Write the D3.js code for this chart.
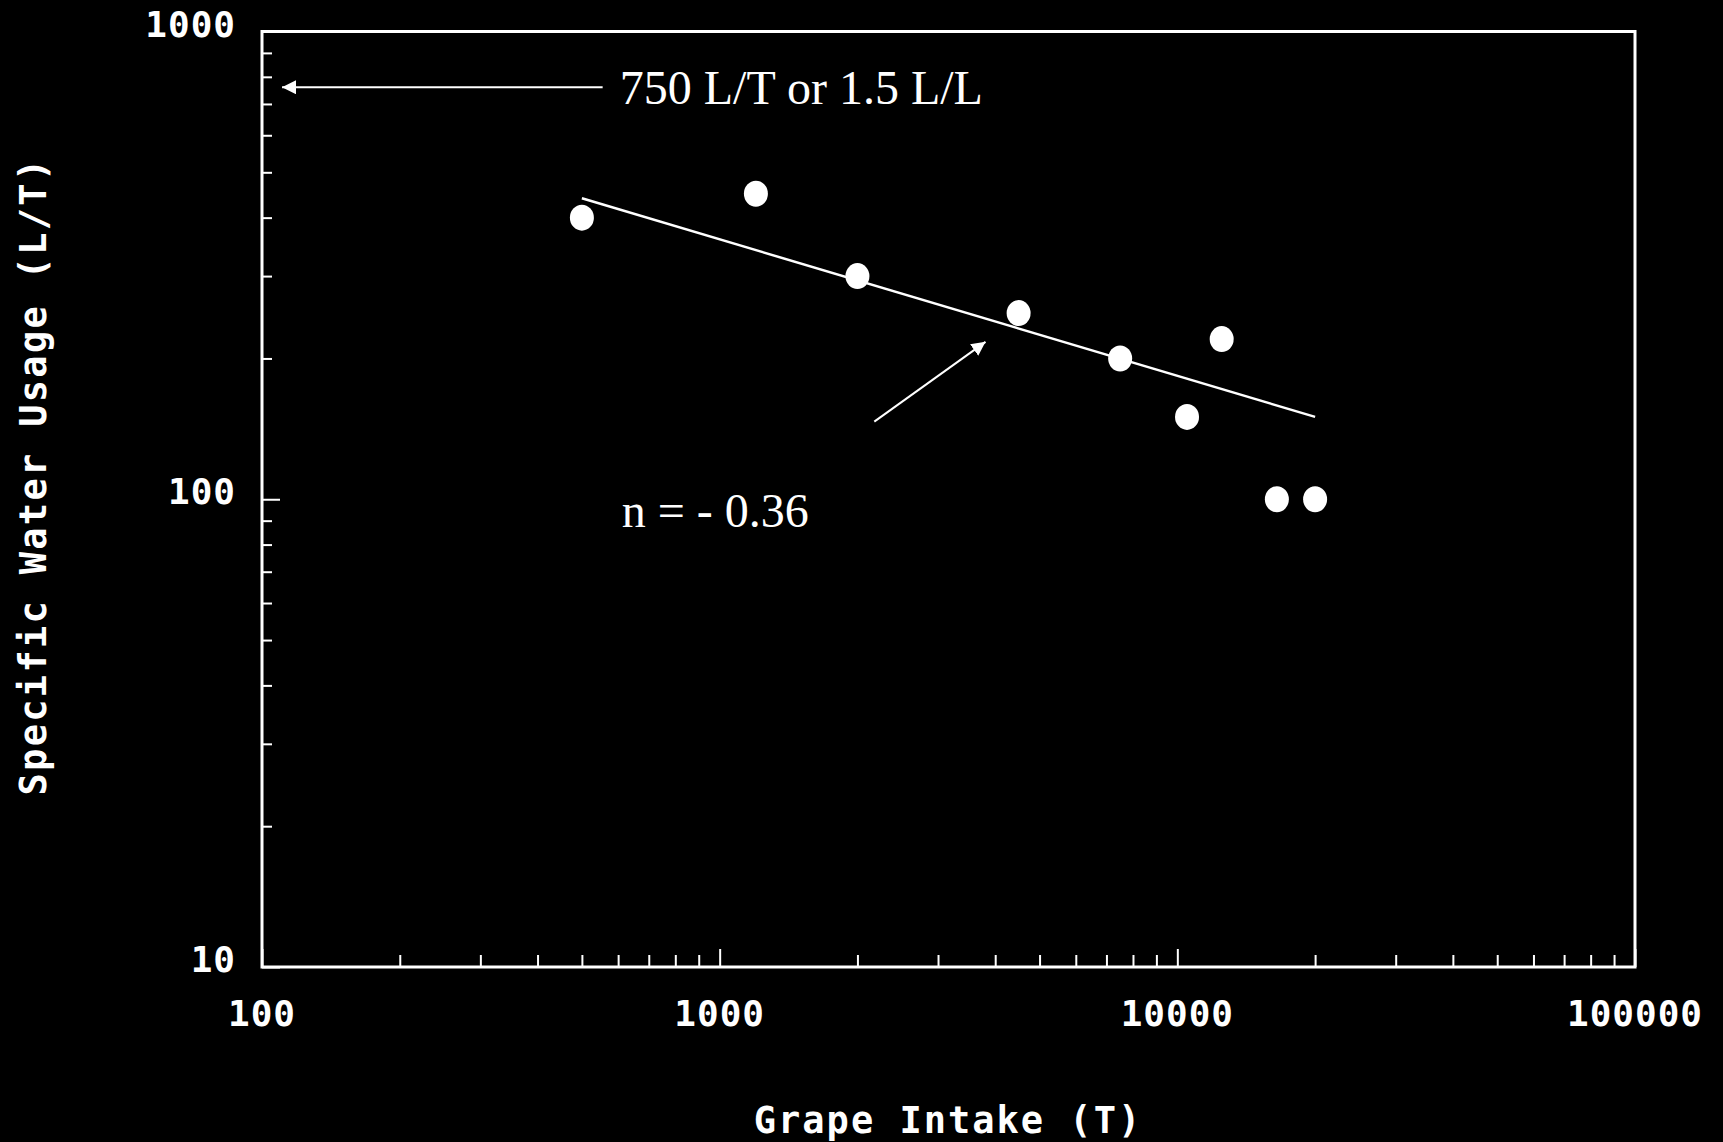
<!DOCTYPE html>
<html>
<head>
<meta charset="utf-8">
<script src="https://cdn.jsdelivr.net/npm/d3@7"></script>
<style>
  html, body { margin: 0; padding: 0; background: #000; }
  svg { display: block; }
</style>
</head>
<body>
<svg id="chart" width="1723" height="1142"></svg>
<script>
// ---- data ----
const intakeT = [500, 1200, 2000, 4500, 7500, 12500, 10500, 16500, 20000];
const waterLT = [400, 450, 300, 250, 200, 220, 150, 100, 100];
const trendX = [500, 20000];
const trendY = [440, 150];
const xTickLabels = ["100", "1000", "10000", "100000"];
const yTickLabels = ["10", "100", "1000"];
const xTitle = "Grape Intake (T)";
const yTitle = "Specific Water Usage (L/T)";
const note1 = "750 L/T or 1.5 L/L";
const note2 = "n = - 0.36";

(function () {
// ---- layout ----
const W = 1723, H = 1142;
const mLeft = 262, mRight = 1635, mTop = 31.5, mBottom = 967;
const svg = d3.select("#chart");
svg.append("rect").attr("width", W).attr("height", H).attr("fill", "#000");

const x = d3.scaleLog().domain([100, 100000]).range([mLeft, mRight]);
const y = d3.scaleLog().domain([10, 1000]).range([mBottom, mTop]);

const monoFont = "'DejaVu Sans Mono', 'Liberation Mono', monospace";
const serifFont = "'Liberation Serif', 'Times New Roman', serif";

// frame
svg.append("rect")
  .attr("x", mLeft).attr("y", mTop)
  .attr("width", mRight - mLeft).attr("height", mBottom - mTop)
  .attr("fill", "none").attr("stroke", "#fff").attr("stroke-width", 3);

// ticks
const xMajor = xTickLabels.map(Number);
const yMajor = yTickLabels.map(Number);
const xMinor = x.ticks().filter(v => !xMajor.includes(v));
const yMinor = y.ticks().filter(v => !yMajor.includes(v));

const xAxisMinor = d3.axisBottom(x).tickValues(xMinor).tickSize(-12).tickFormat("");
const xAxisMajor = d3.axisBottom(x).tickValues(xMajor).tickSize(-18).tickFormat("");
const yAxisMinor = d3.axisLeft(y).tickValues(yMinor).tickSize(-10).tickFormat("");
const yAxisMajor = d3.axisLeft(y).tickValues(yMajor).tickSize(-18).tickFormat("");

function styleAxis(g) {
  g.select(".domain").remove();
  g.selectAll(".tick line").attr("stroke", "#fff").attr("stroke-width", 2);
}
svg.append("g").attr("transform", `translate(0,${mBottom})`).call(xAxisMinor).call(styleAxis);
svg.append("g").attr("transform", `translate(0,${mBottom})`).call(xAxisMajor).call(styleAxis);
svg.append("g").attr("transform", `translate(${mLeft},0)`).call(yAxisMinor).call(styleAxis);
svg.append("g").attr("transform", `translate(${mLeft},0)`).call(yAxisMajor).call(styleAxis);

// tick labels
svg.append("g").selectAll("text").data(xTickLabels).join("text")
  .attr("x", d => x(+d)).attr("y", 1026)
  .attr("text-anchor", "middle")
  .attr("fill", "#fff").attr("font-family", monoFont).attr("font-weight", "bold")
  .attr("font-size", 36).attr("letter-spacing", 1)
  .text(d => d);

svg.append("g").selectAll("text").data(yTickLabels).join("text")
  .attr("x", 236).attr("y", d => y(+d) + 5)
  .attr("text-anchor", "end")
  .attr("fill", "#fff").attr("font-family", monoFont).attr("font-weight", "bold")
  .attr("font-size", 36).attr("letter-spacing", 1)
  .text(d => d);

// axis titles
svg.append("text")
  .attr("x", 948).attr("y", 1133)
  .attr("text-anchor", "middle")
  .attr("fill", "#fff").attr("font-family", monoFont).attr("font-weight", "bold")
  .attr("font-size", 37).attr("letter-spacing", 2)
  .text(xTitle);

svg.append("text")
  .attr("transform", "translate(46,476) rotate(-90)")
  .attr("text-anchor", "middle")
  .attr("fill", "#fff").attr("font-family", monoFont).attr("font-weight", "bold")
  .attr("font-size", 37).attr("letter-spacing", 2.3)
  .text(yTitle);

// trend line
const lineGen = d3.line().x(d => x(d[0])).y(d => y(d[1]));
svg.append("path")
  .datum(d3.zip(trendX, trendY))
  .attr("d", lineGen)
  .attr("fill", "none").attr("stroke", "#fff").attr("stroke-width", 2.5);

// points
svg.append("g").selectAll("ellipse").data(d3.zip(intakeT, waterLT)).join("ellipse")
  .attr("cx", d => x(d[0])).attr("cy", d => y(d[1]))
  .attr("rx", 12).attr("ry", 13)
  .attr("fill", "#fff");

// arrow marker
svg.append("defs").append("marker")
  .attr("id", "arrow")
  .attr("viewBox", "0 0 14 14")
  .attr("refX", 14).attr("refY", 7)
  .attr("markerWidth", 14).attr("markerHeight", 14)
  .attr("markerUnits", "userSpaceOnUse")
  .attr("orient", "auto")
  .append("path").attr("d", "M0,0 L14,7 L0,14 Z").attr("fill", "#fff");

// annotation arrows (in data space)
const arrow1 = [[555, 760], [110.6, 760]];
const arrow2 = [[2177, 146.5], [3810, 217]];
[arrow1, arrow2].forEach(a => {
  svg.append("path")
    .datum(a)
    .attr("d", lineGen)
    .attr("fill", "none").attr("stroke", "#fff").attr("stroke-width", 2)
    .attr("marker-end", "url(#arrow)");
});

// annotation texts
svg.append("text")
  .attr("x", x(605)).attr("y", 104)
  .attr("fill", "#fff").attr("font-family", serifFont).attr("font-size", 48)
  .text(note1);

svg.append("text")
  .attr("x", x(611)).attr("y", 527)
  .attr("fill", "#fff").attr("font-family", serifFont).attr("font-size", 48)
  .text(note2);
})();
</script>
</body>
</html>
